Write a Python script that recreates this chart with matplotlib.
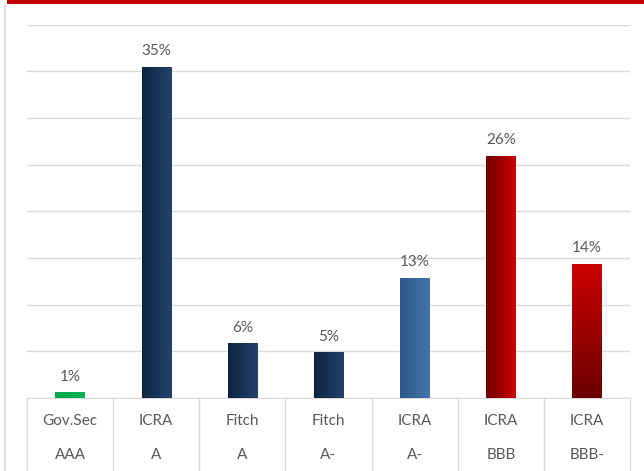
import numpy as np
import matplotlib
matplotlib.use("Agg")
import matplotlib.pyplot as plt
import matplotlib.colors as mcolors
from matplotlib.lines import Line2D
from matplotlib.patches import Rectangle

# ======= 数据 =======
agencies = ["Gov.Sec", "ICRA", "Fitch", "Fitch", "ICRA", "ICRA", "ICRA"]
ratings  = ["AAA", "A", "A", "A-", "A-", "BBB", "BBB-"]
shares   = [0.6, 35.5, 5.9, 4.9, 12.9, 25.95, 14.4]   # %
labels   = ["1%", "35%", "6%", "5%", "13%", "26%", "14%"]

# 渐变色：(起色, 止色, 方向)  h=左→右, v=上→下
gradients = [
    ("#00a84f", "#00b050", "h"),
    ("#0e2340", "#23426b", "h"),
    ("#0e2340", "#23426b", "h"),
    ("#0e2340", "#23426b", "h"),
    ("#2d5888", "#4474ad", "h"),
    ("#6e0000", "#cc0000", "h"),
    ("#cc0000", "#6a0000", "v"),
]

TEXT = "#595959"
GRID = "#d9d9d9"
plt.rcParams["font.family"] = ["Lato", "DejaVu Sans"]

fig = plt.figure(figsize=(6.44, 4.71), dpi=100)
ax = fig.add_axes([27/644, 1 - 398/471, 603/644, 373.5/471])

x = np.arange(len(shares))
bars = ax.bar(x, shares, width=0.34, color="none", zorder=3)

for b, (c0, c1, d) in zip(bars, gradients):
    cmap = mcolors.LinearSegmentedColormap.from_list("g", [c0, c1])
    grad = np.linspace(0, 1, 256)
    img = grad.reshape(1, -1) if d == "h" else grad.reshape(-1, 1)
    x0, y0 = b.get_x(), b.get_y()
    w, h = b.get_width(), b.get_height()
    im = ax.imshow(img, cmap=cmap, aspect="auto", origin="upper",
                   extent=[x0, x0 + w, y0, y0 + h], zorder=3)
    im.set_clip_path(b)

for xi, v, lab in zip(x, shares, labels):
    ax.annotate(lab, (xi, v), xytext=(0, 6), textcoords="offset points",
                ha="center", va="bottom", fontsize=11, color=TEXT)

ax.set_xlim(-0.5, len(shares) - 0.5)
ax.set_ylim(0, 40)
ax.set_yticks(np.arange(0, 41, 5))
ax.yaxis.grid(True, color=GRID, lw=1)
ax.set_axisbelow(True)
ax.tick_params(left=False, labelleft=False, bottom=False, labelbottom=False)
for s in ["top", "right", "left"]:
    ax.spines[s].set_visible(False)
ax.spines["bottom"].set_color(GRID)

# 两级分类标签
trans = ax.get_xaxis_transform()
for xi, a, r in zip(x, agencies, ratings):
    ax.text(xi, -0.062, a, transform=trans, ha="center", va="center",
            fontsize=11, color=TEXT)
    ax.text(xi, -0.153, r, transform=trans, ha="center", va="center",
            fontsize=11, color=TEXT)
for xb in np.arange(-0.5, len(shares), 1.0):
    ax.add_line(Line2D([xb, xb], [0, -0.2], transform=trans, color=GRID,
                       lw=1, clip_on=False))

# 外框：顶部红条 + 左侧灰线
fig.add_artist(Rectangle((7/644, 1 - 3.5/471), 1, 3.5/471, transform=fig.transFigure,
                         color="#c00000", lw=0))
fig.add_artist(Line2D([5/644, 5/644], [0, 1 - 3.5/471], transform=fig.transFigure,
                      color=GRID, lw=1.2))

fig.savefig("out.png", dpi=100)
